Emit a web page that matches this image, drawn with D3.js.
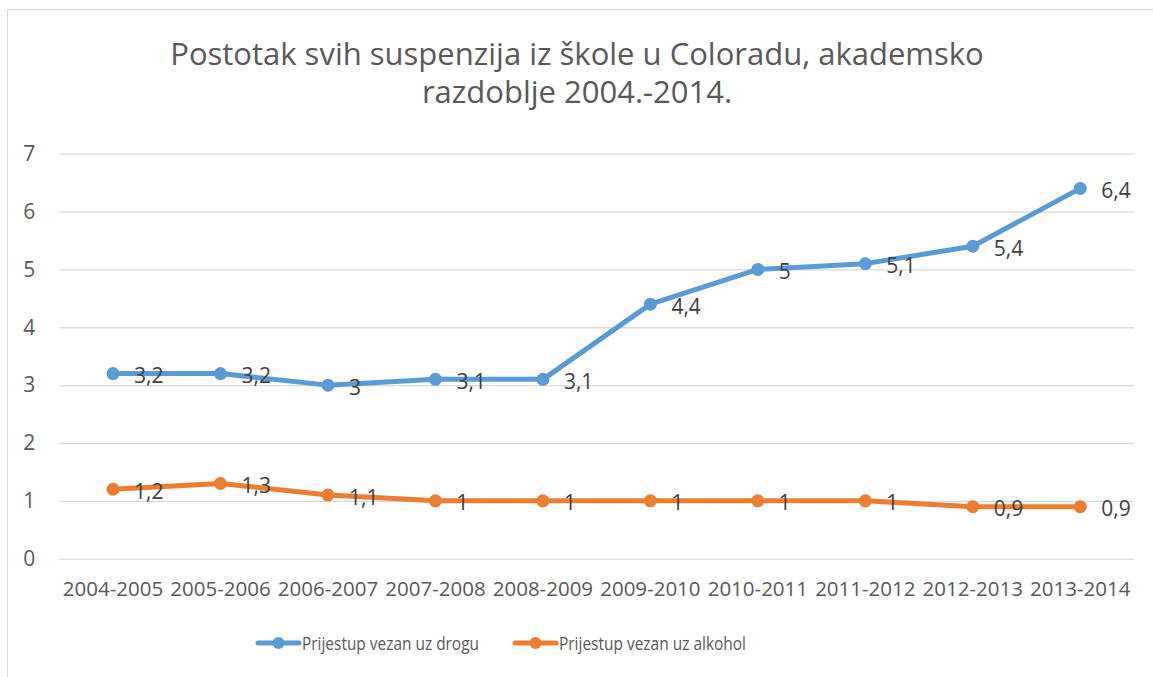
<!DOCTYPE html>
<html>
<head>
<meta charset="utf-8">
<script src="https://cdn.jsdelivr.net/npm/d3@7"></script>
<style>
  body { margin: 0; background: #fff; }
  svg { display: block; }
  svg text { font-family: 'Open Sans', sans-serif; }
</style>
</head>
<body>
<svg id="chart" width="1153" height="677"></svg>
<script>
  const titleLines = ['Postotak svih suspenzija iz škole u Coloradu, akademsko', 'razdoblje 2004.-2014.'];
  const years = ['2004-2005', '2005-2006', '2006-2007', '2007-2008', '2008-2009',
    '2009-2010', '2010-2011', '2011-2012', '2012-2013', '2013-2014'];
  const drugs = [3.2, 3.2, 3, 3.1, 3.1, 4.4, 5, 5.1, 5.4, 6.4];
  const alcohol = [1.2, 1.3, 1.1, 1, 1, 1, 1, 1, 0.9, 0.9];
  const yTicks = [0, 1, 2, 3, 4, 5, 6, 7];
  const seriesNames = ['Prijestup vezan uz drogu', 'Prijestup vezan uz alkohol'];
  const colors = ['#5B9BD5', '#ED7D31'];

  const svg = d3.select('#chart');
  const width = +svg.attr('width');
  const height = +svg.attr('height');

  // outer frame, only left and top edges are visible in the screenshot
  svg.append('path')
    .attr('d', `M7.5,${height}V9.5H${width}`)
    .attr('fill', 'none').attr('stroke', '#D9D9D9');

  const margin = { top: 153.7, right: 19, bottom: 118.3, left: 59.3 };
  const innerWidth = width - margin.left - margin.right;
  const innerHeight = height - margin.top - margin.bottom;

  const g = svg.append('g')
    .attr('transform', `translate(${margin.left},${margin.top})`);

  const xScale = d3.scaleBand().domain(years).range([0, innerWidth]);
  const yScale = d3.scaleLinear().domain([0, 7]).range([innerHeight, 0]);
  const xPos = d => xScale(d) + xScale.bandwidth() / 2;

  const yAxisG = g.append('g')
    .call(d3.axisLeft(yScale).tickValues(yTicks).tickFormat(d3.format('d'))
      .tickSize(-innerWidth).tickPadding(24))
    .attr('font-family', null).attr('font-size', 21);
  yAxisG.select('.domain').remove();
  yAxisG.selectAll('.tick line').attr('stroke', '#D9D9D9').attr('stroke-width', 1.3);
  yAxisG.selectAll('.tick text').attr('fill', '#595959');

  const xAxisG = g.append('g')
    .attr('transform', `translate(0,${innerHeight})`)
    .call(d3.axisBottom(xScale).tickSize(0).tickPadding(23))
    .attr('font-family', null).attr('font-size', 20.5);
  xAxisG.select('.domain').remove();
  xAxisG.selectAll('.tick text').attr('fill', '#595959');

  const comma = v => String(v).replace('.', ',');
  const line = d3.line().x(d => xPos(d.year)).y(d => yScale(d.value));

  [drugs, alcohol].forEach((values, i) => {
    const data = values.map((v, j) => ({ year: years[j], value: v }));
    g.append('path').datum(data)
      .attr('d', line)
      .attr('fill', 'none')
      .attr('stroke', colors[i])
      .attr('stroke-width', 5)
      .attr('stroke-linejoin', 'round')
      .attr('stroke-linecap', 'round');
    g.selectAll(null).data(data).enter().append('circle')
      .attr('cx', d => xPos(d.year))
      .attr('cy', d => yScale(d.value))
      .attr('r', 6.5)
      .attr('fill', colors[i]);
    g.selectAll(null).data(data).enter().append('text')
      .attr('x', d => xPos(d.year) + 21)
      .attr('y', d => yScale(d.value) + 2)
      .attr('dy', '0.36em')
      .attr('font-size', 21)
      .attr('fill', '#404040')
      .text(d => comma(d.value));
  });

  // title
  svg.append('g').selectAll('text').data(titleLines).enter().append('text')
    .attr('x', 577)
    .attr('y', (d, i) => 65 + i * 38)
    .attr('text-anchor', 'middle')
    .attr('font-size', 31)
    .attr('fill', '#595959')
    .text(d => d);

  // legend
  const legendX = [258, 515];
  const legendLen = [177, 187];
  const legend = svg.append('g').selectAll('g').data(seriesNames).enter().append('g')
    .attr('transform', (d, i) => `translate(${legendX[i]},643)`);
  legend.append('line')
    .attr('x1', 0).attr('x2', 41)
    .attr('stroke', (d, i) => colors[i])
    .attr('stroke-width', 5)
    .attr('stroke-linecap', 'round');
  legend.append('circle')
    .attr('cx', 20.5).attr('r', 6)
    .attr('fill', (d, i) => colors[i]);
  legend.append('text')
    .attr('x', 44)
    .attr('y', 6.5)
    .attr('font-size', 19)
    .attr('textLength', (d, i) => legendLen[i])
    .attr('lengthAdjust', 'spacingAndGlyphs')
    .attr('fill', '#595959')
    .text(d => d);
</script>
</body>
</html>
